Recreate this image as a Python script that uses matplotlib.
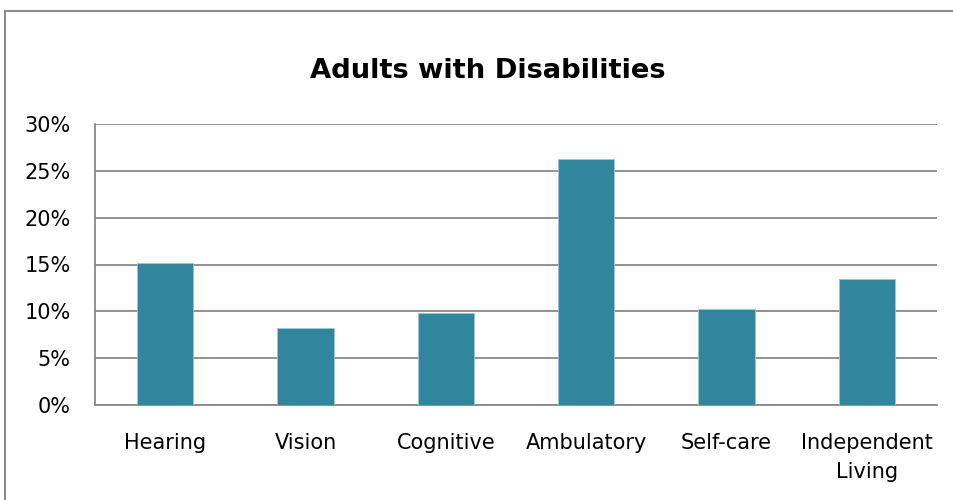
import numpy as np
import matplotlib.pyplot as plt
from matplotlib.patches import Rectangle
from matplotlib.ticker import FuncFormatter

# Data
categories = ['Hearing', 'Vision', 'Cognitive', 'Ambulatory', 'Self-care', 'Independent\nLiving']
values = [0.152, 0.082, 0.098, 0.263, 0.102, 0.134]
yticks = [0, 0.05, 0.10, 0.15, 0.20, 0.25, 0.30]

plt.rcParams['font.family'] = ['DejaVu Sans']

fig = plt.figure(figsize=(9.54, 5.0), dpi=100)
ax = fig.add_axes([0.0996, 0.19, 0.8826, 0.562])

# Outer chart border (cut off on the right and bottom)
fig.patches.append(Rectangle((5 / 954, -0.1), 1.2, 1 - 11 / 500 + 0.1,
                             transform=fig.transFigure, fill=False,
                             edgecolor='#8c8c8c', linewidth=1.5))

x = np.arange(len(categories))
ax.bar(x, values, width=0.4, color='#31859C', edgecolor='#9cc7d3',
       linewidth=0.6, zorder=3)

ax.set_xlim(-0.5, len(categories) - 0.5)
ax.set_ylim(0, 0.30)
ax.set_yticks(yticks)
ax.yaxis.set_major_formatter(FuncFormatter(lambda v, p: f'{v * 100:.0f}%'))
ax.set_xticks(x)
ax.set_xticklabels(categories, linespacing=1.55)

ax.grid(axis='y', color='#898989', linewidth=1.3, zorder=0)
for side in ['top', 'right']:
    ax.spines[side].set_visible(False)
for side in ['left', 'bottom']:
    ax.spines[side].set_color('#898989')
    ax.spines[side].set_linewidth(1.3)
ax.tick_params(axis='both', length=0, labelsize=15, colors='black')
ax.tick_params(axis='x', pad=20)
ax.tick_params(axis='y', pad=17.5)
for lbl in ax.get_yticklabels():
    lbl.set_horizontalalignment('right')

fig.text(0.511, 0.858, 'Adults with Disabilities', ha='center', va='center',
         fontsize=19.7, fontweight='bold')

fig.savefig('out.png', dpi=100)
